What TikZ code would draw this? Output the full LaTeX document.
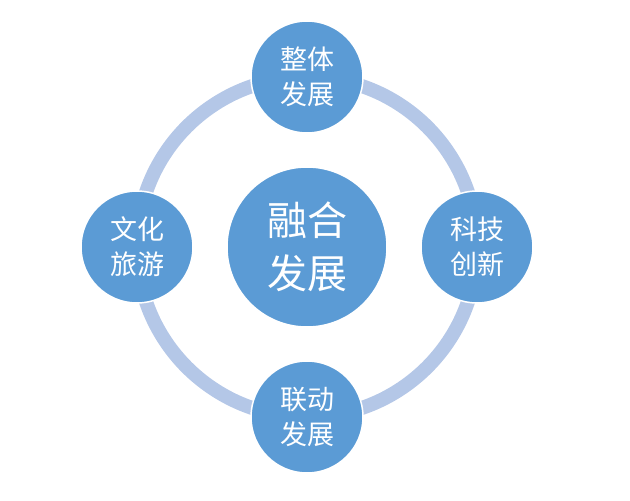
\documentclass[tikz,border=0pt]{standalone}
\usepackage{fontspec}
\newfontfamily\cjk{Noto Sans CJK SC}
\definecolor{hubblue}{HTML}{5B9BD5}
\definecolor{ringblue}{HTML}{B4C7E7}
\begin{document}
\begin{tikzpicture}[x=1pt,y=-1pt,
  hub/.style={circle,fill=hubblue,draw=white,line width=1.5pt,minimum size=160pt,inner sep=0pt,
    text=white,align=center,font=\cjk\fontsize{40}{53}\selectfont},
  sat/.style={hub,minimum size=112pt,font=\cjk\fontsize{27}{35}\selectfont}]
\useasboundingbox (0,0) rectangle (630,501);
\coordinate (o) at (307,247);
\draw[ringblue,line width=14pt] (o) circle (170pt);
\node[hub] (fusion) at (o) {融合\\发展};
\node[sat] (whole) at (307,77) {整体\\发展};
\node[sat] (tech) at (477,247) {科技\\创新};
\node[sat] (link) at (307,417) {联动\\发展};
\node[sat] (tour) at (137,247) {文化\\旅游};
\end{tikzpicture}
\end{document}
